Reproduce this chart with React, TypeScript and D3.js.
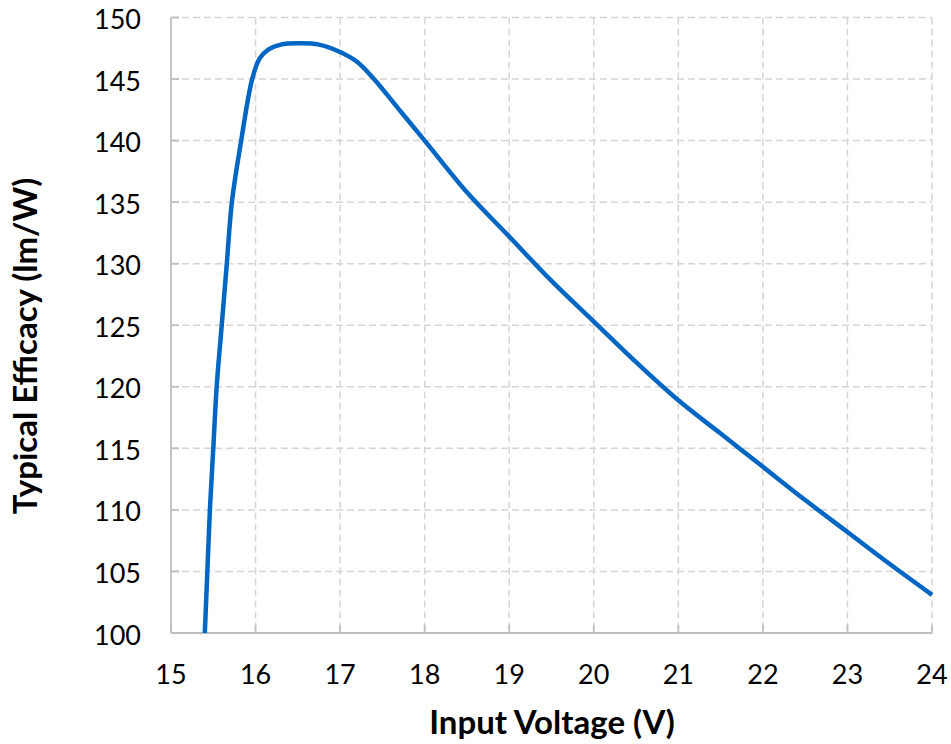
import React from "react";
import * as d3 from "d3";

const voltage = [15.4, 15.43, 15.46, 15.5, 15.54, 15.6, 15.66, 15.72, 15.83, 15.96, 16.05, 16.15, 16.3, 16.5, 16.75, 17.0, 17.2, 17.4, 17.7, 18.0, 18.5, 19.0, 19.5, 20.0, 20.5, 21.0, 21.5, 22.0, 22.5, 23.0, 23.5, 24.0];
const efficacy = [100, 105, 110, 115, 120, 125, 130, 135, 140, 145, 146.7, 147.4, 147.8, 147.9, 147.8, 147.2, 146.4, 145.0, 142.5, 140, 135.8, 132.2, 128.6, 125.3, 122.0, 118.9, 116.2, 113.5, 110.8, 108.2, 105.6, 103.1];
const xTicks = [15, 16, 17, 18, 19, 20, 21, 22, 23, 24];
const yTicks = [100, 105, 110, 115, 120, 125, 130, 135, 140, 145, 150];

export default function App() {
  const W = 951, H = 744;
  const left = 171, right = 932, top = 17.5, bottom = 633;
  const x = d3.scaleLinear().domain([15, 24]).range([left, right]);
  const y = d3.scaleLinear().domain([100, 150]).range([bottom, top]);
  const pts = voltage.map((v, i) => [v, efficacy[i]] as [number, number]);
  const line = d3.line<[number, number]>().x(d => x(d[0])).y(d => y(d[1])).curve(d3.curveCatmullRom.alpha(0.5));
  const font = "Lato, 'Open Sans', sans-serif";
  const grid = "#d9d4d1";
  const axis = "#bfbfbf";
  return (
    <svg width={W} height={H} style={{ position: "absolute", left: 0, top: 0, background: "#fff" }}>
      {xTicks.filter(t => t > 15).map(t => (
        <line key={"gx" + t} x1={x(t)} x2={x(t)} y1={top} y2={bottom} stroke={grid} strokeWidth={1.5} strokeDasharray="7,4" />
      ))}
      {yTicks.filter(t => t > 100).map(t => (
        <line key={"gy" + t} x1={left} x2={right} y1={y(t)} y2={y(t)} stroke={grid} strokeWidth={1.5} strokeDasharray="7,4" />
      ))}
      <line x1={left} x2={left} y1={top} y2={bottom} stroke={axis} strokeWidth={1.8} />
      <line x1={left} x2={right} y1={bottom} y2={bottom} stroke={axis} strokeWidth={1.8} />
      {yTicks.map(t => (
        <line key={"ty" + t} x1={left} x2={left + 8} y1={y(t)} y2={y(t)} stroke={axis} strokeWidth={1.8} />
      ))}
      {xTicks.map(t => (
        <line key={"tx" + t} x1={x(t)} x2={x(t)} y1={bottom} y2={bottom - 8} stroke={axis} strokeWidth={1.8} />
      ))}
      <path d={line(pts) || ""} fill="none" stroke="#0066c4" strokeWidth={4.5} strokeLinejoin="round" />
      {yTicks.map(t => (
        <text key={"ly" + t} x={141} y={y(t) + 11.5} textAnchor="end" fontFamily={font} fontSize={27} fill="#000">{t}</text>
      ))}
      {xTicks.map(t => (
        <text key={"lx" + t} x={x(t)} y={684} textAnchor="middle" fontFamily={font} fontSize={27} fill="#000">{t}</text>
      ))}
      <text x={552} y={734} textAnchor="middle" fontFamily={font} fontSize={33} fontWeight="bold" fill="#000">Input Voltage (V)</text>
      <text transform={`translate(37,346) rotate(-90)`} textAnchor="middle" fontFamily={font} fontSize={33} fontWeight="bold" fill="#000">Typical Efficacy (lm/W)</text>
    </svg>
  );
}
